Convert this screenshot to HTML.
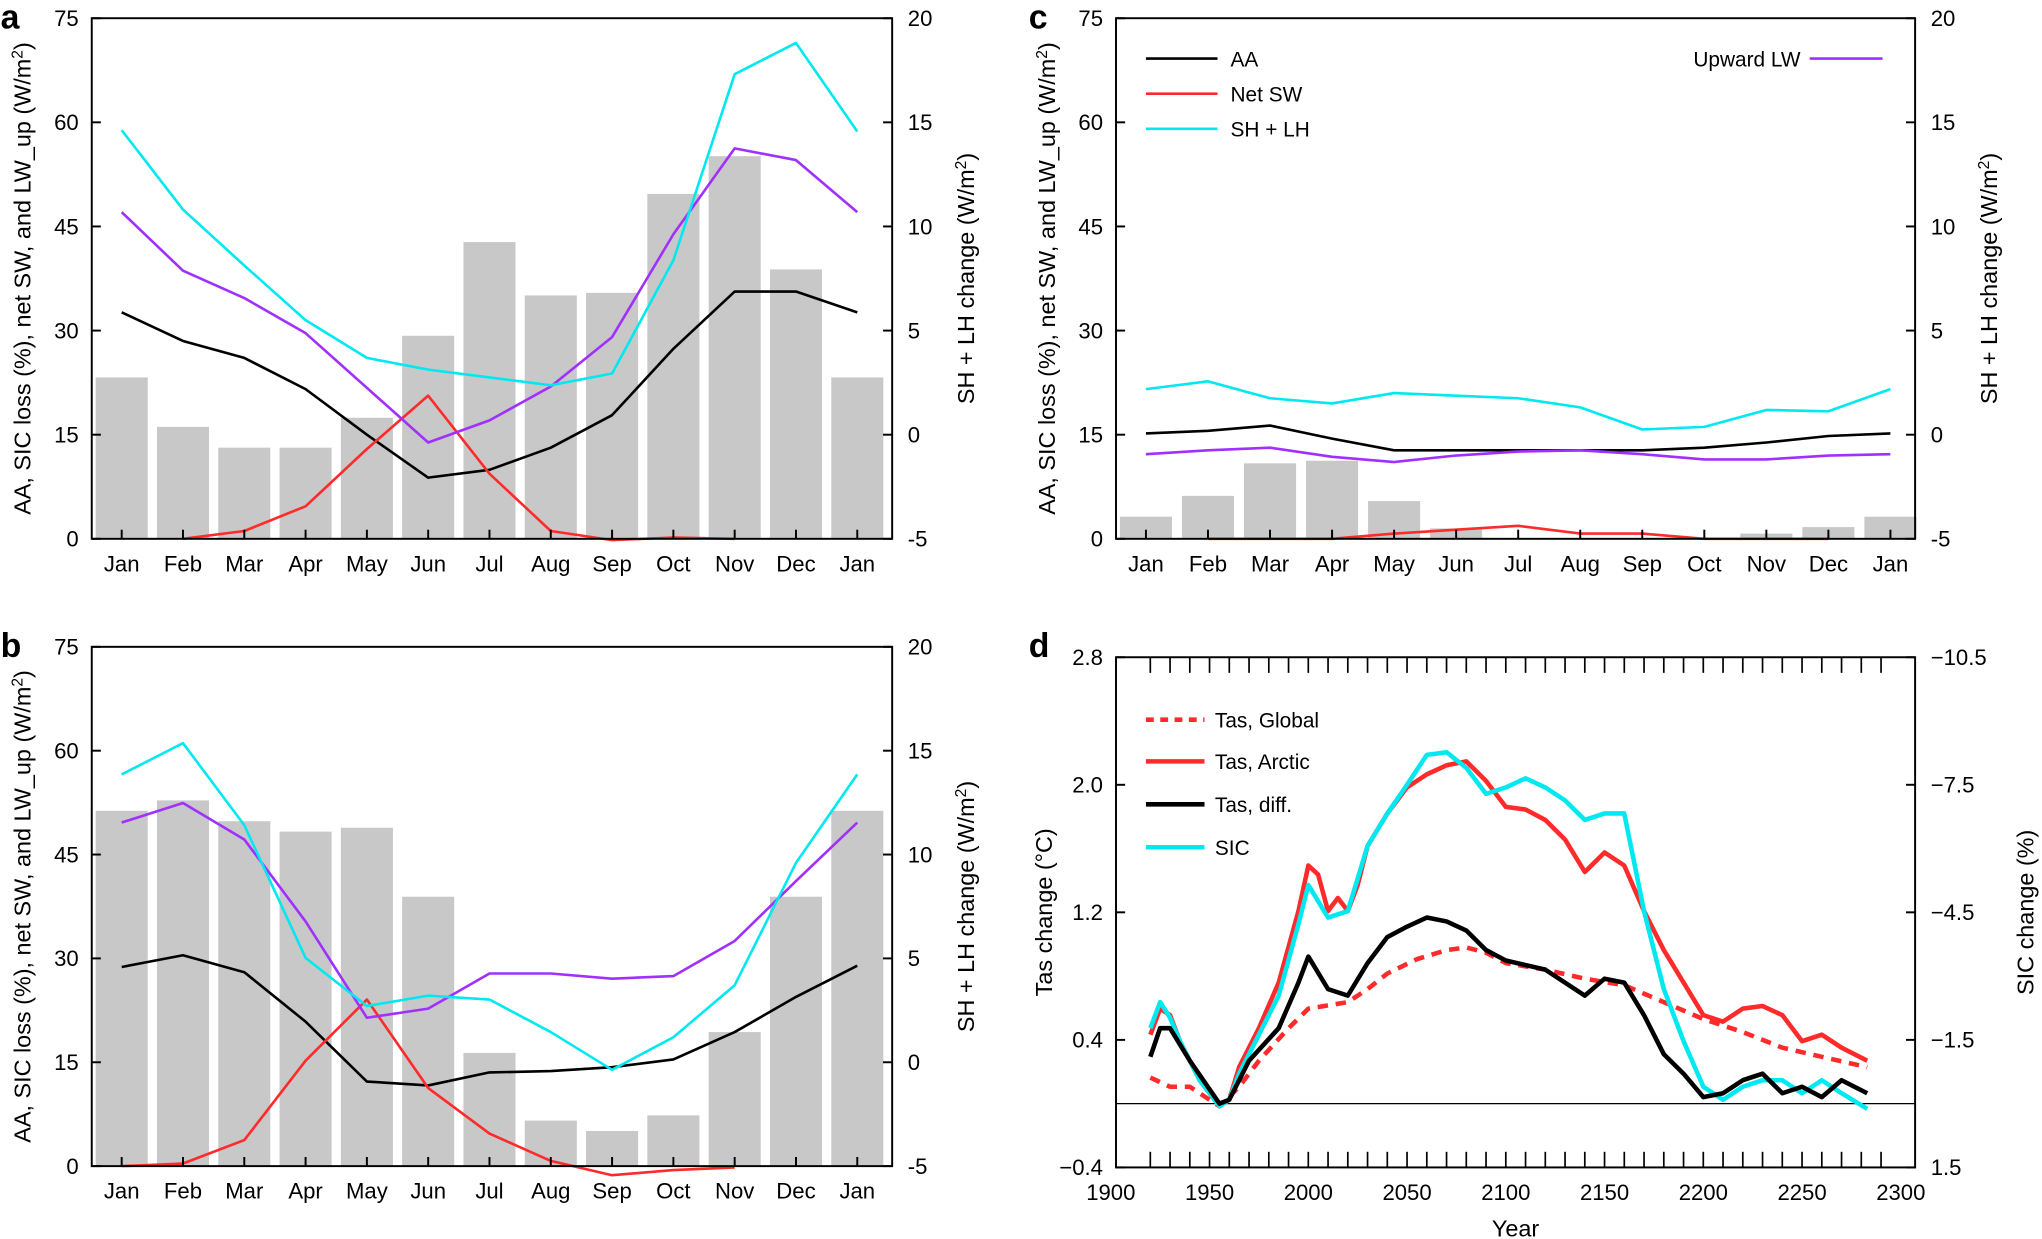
<!DOCTYPE html>
<html><head><meta charset="utf-8"><style>
html,body{margin:0;padding:0;background:#fff;}
svg{display:block;font-family:"Liberation Sans",sans-serif;}
</style></head><body>
<svg id="s" width="2042" height="1239" viewBox="0 0 1568 952" xmlns="http://www.w3.org/2000/svg">
<g id="g"></g>
<text x="0" y="22" font-size="26" font-weight="bold">a</text>
<text x="0" y="505" font-size="26" font-weight="bold">b</text>
<text x="790" y="22" font-size="26" font-weight="bold">c</text>
<text x="790" y="505" font-size="26" font-weight="bold">d</text>
</svg>
<script>
const NS="http://www.w3.org/2000/svg",G=document.getElementById('g');
function el(t,a,txt){const e=document.createElementNS(NS,t);for(const k in a)e.setAttribute(k,a[k]);if(txt!==undefined)e.textContent=txt;G.appendChild(e);return e;}
function line(xs,ys,c,w,d){let p=xs.map((x,i)=>x.toFixed(1)+','+ys[i]).join(' ');const a={points:p,fill:'none',stroke:c,'stroke-width':w||2,'stroke-linejoin':'round'};if(d)a['stroke-dasharray']=d;el('polyline',a);}
const M=['Jan','Feb','Mar','Apr','May','Jun','Jul','Aug','Sep','Oct','Nov','Dec','Jan'];
function monthPanel(x0,x1,y0,y1,mx0,sp,bars,blk,cy,pu,red,redStart,redEnd){
  const mx=M.map((_,i)=>mx0+sp*i);
  mx.forEach((x,i)=>el('rect',{x:x-20,y:bars[i],width:40,height:y1-bars[i],fill:'#c8c8c8'}));
  line(mx,blk,'#000',2);
  line(mx.slice(redStart,redEnd+1),red,'#ff2a2a',2);
  line(mx,pu,'#a030ff',2);
  line(mx,cy,'#00e8f0',2);
  el('rect',{x:x0,y:y0,width:x1-x0,height:y1-y0,fill:'none',stroke:'#000','stroke-width':1.5});
  for(let i=0;i<=5;i++){const y=y1-(y1-y0)*i/5;
    el('line',{x1:x0,y1:y,x2:x0+7,y2:y,stroke:'#000','stroke-width':1.5});
    el('line',{x1:x1,y1:y,x2:x1-7,y2:y,stroke:'#000','stroke-width':1.5});
    el('text',{x:x0-10,y:y+6,'font-size':17,'text-anchor':'end'},String(i*15));
    el('text',{x:x1+12,y:y+6,'font-size':17},String(-5+i*5));}
  mx.forEach((x,i)=>{el('line',{x1:x,y1:y1,x2:x,y2:y1-7,stroke:'#000','stroke-width':1.5});
    el('text',{x:x,y:y1+25,'font-size':17,'text-anchor':'middle'},M[i]);});
  const cyM=(y0+y1)/2;
  let t=el('text',{x:0,y:0,'font-size':18,'text-anchor':'middle',transform:`translate(${x0-47},${cyM}) rotate(-90)`});
  t.innerHTML='AA, SIC loss (%), net SW, and LW_up (W/m<tspan baseline-shift="super" font-size="12">2</tspan>)';
  t=el('text',{x:0,y:0,'font-size':18,'text-anchor':'middle',transform:`translate(${x1+63},${cyM}) rotate(-90)`});
  t.innerHTML='SH + LH change (W/m<tspan baseline-shift="super" font-size="12">2</tspan>)';
}
monthPanel(70,685,14,414,93,47.1,
 [290,328,344,344,321,258,186,227,225,149,120,207,290],
 [240,262,275,299,334,367,361,344,319,268,224,224,240],
 [100,161,204,246,275,284,290,296,287,200,57,33,101],
 [163,208,229,256,298,340,323,297,259,180,114,123,163],
 [414,408,389,345,304,364,408,415,413,414],1,10);
monthPanel(70,685,497,896,93,47.1,
 [623,615,631,639,636,689,809,861,869,857,793,689,623],
 [743,734,747,785,831,834,824,823,820,814,793,766,742],
 [595,571,634,736,773,765,768,793,822,797,757,663,595],
 [632,617,645,708,782,775,748,748,752,750,723,677,632],
 [896,894,876,815,768,836,871,892,903,899,897],0,10);
monthPanel(857,1471,14,414,880,47.67,
 [397,381,356,354,385,406,414,414,414,414,410,405,397],
 [333,331,327,337,346,346,346,346,346,344,340,335,333],
 [299,293,306,310,302,304,306,313,330,328,315,316,299],
 [349,346,344,351,355,350,347,346,349,353,353,350,349],
 [414,414,414,410,407,404,410,410,414,414,414],1,11);
[['AA','#000',45],['Net SW','#ff2a2a',72],['SH + LH','#00e8f0',99]].forEach(([n,c,y])=>{
 el('line',{x1:880,y1:y,x2:935,y2:y,stroke:c,'stroke-width':2});el('text',{x:945,y:y+6,'font-size':16},n);});
el('line',{x1:1390,y1:45,x2:1446,y2:45,stroke:'#a030ff','stroke-width':2});
el('text',{x:1383,y:51,'font-size':16,'text-anchor':'end'},'Upward LW');
const X=y=>853+(y-1900)*1.5175;
function dl(pts,c,w,d){const xs=[],ys=[];for(let i=0;i<pts.length;i+=2){xs.push(X(pts[i]));ys.push(pts[i+1]);}line(xs,ys,c,w,d);}
el('line',{x1:857,y1:848,x2:1471,y2:848,stroke:'#000','stroke-width':1});
dl([1920,828,1930,835,1940,835,1955,850,1965,835,1975,815,1990,790,2000,775,2020,770,2030,760,2040,748,2055,737,2070,730,2080,728,2090,732,2100,740,2120,745,2140,752,2160,757,2180,770,2200,783,2220,793,2240,805,2260,812,2283,820],'#ff2a2a',3.5,'8,6');
dl([1920,795,1925,775,1930,780,1935,800,1945,830,1955,850,1960,845,1965,820,1975,790,1985,755,1995,700,2000,665,2005,672,2010,700,2015,690,2020,700,2025,680,2030,650,2040,625,2050,605,2060,595,2070,588,2080,585,2090,600,2100,620,2110,622,2120,630,2130,645,2140,670,2150,655,2160,665,2170,700,2180,730,2190,755,2200,780,2210,785,2220,775,2230,773,2240,780,2250,800,2260,795,2270,805,2283,815],'#ff2a2a',3.5);
dl([1920,790,1925,770,1930,782,1935,800,1945,830,1955,850,1960,845,1965,825,1975,795,1985,765,1995,710,2000,680,2010,705,2020,700,2030,650,2040,625,2050,603,2060,580,2070,578,2080,590,2090,610,2100,605,2110,598,2120,605,2130,615,2140,630,2150,625,2160,625,2170,700,2180,760,2190,800,2200,835,2210,845,2220,835,2230,830,2240,830,2250,840,2260,830,2270,840,2283,852],'#00e8f0',3.5);
dl([1920,812,1925,790,1930,790,1940,815,1955,848,1960,845,1970,815,1985,790,1995,755,2000,735,2010,760,2020,765,2030,740,2040,720,2050,712,2060,705,2070,708,2080,715,2090,730,2100,738,2120,745,2130,755,2140,765,2150,752,2160,755,2170,780,2180,810,2190,825,2200,843,2210,840,2220,830,2230,825,2240,840,2250,835,2260,843,2270,830,2283,840],'#000',3.5);
el('rect',{x:857,y:505,width:614,height:392,fill:'none',stroke:'#000','stroke-width':1.5});
for(let yr=1920;yr<=2290;yr+=10){const x=X(yr);el('line',{x1:x,y1:897,x2:x,y2:885,stroke:'#000','stroke-width':1.3});el('line',{x1:x,y1:505,x2:x,y2:517,stroke:'#000','stroke-width':1.3});}
for(let yr=1900;yr<=2300;yr+=50){el('text',{x:X(yr),y:922,'font-size':17,'text-anchor':'middle'},String(yr));}
['2.8','2.0','1.2','0.4','−0.4'].forEach((l,i)=>{const y=505+98*i;el('text',{x:847,y:y+6,'font-size':17,'text-anchor':'end'},l);
 el('line',{x1:857,y1:y,x2:864,y2:y,stroke:'#000','stroke-width':1.5});el('line',{x1:1471,y1:y,x2:1464,y2:y,stroke:'#000','stroke-width':1.5});});
['−10.5','−7.5','−4.5','−1.5','1.5'].forEach((l,i)=>el('text',{x:1483,y:505+98*i+6,'font-size':17},l));
el('text',{x:1164,y:950,'font-size':18,'text-anchor':'middle'},'Year');
el('text',{x:0,y:0,'font-size':18,'text-anchor':'middle',transform:'translate(808,701) rotate(-90)'},'Tas change (°C)');
el('text',{x:0,y:0,'font-size':18,'text-anchor':'middle',transform:'translate(1562,701) rotate(-90)'},'SIC change (%)');
[['Tas, Global','#ff2a2a',553,'6,5'],['Tas, Arctic','#ff2a2a',585],['Tas, diff.','#000',618],['SIC','#00e8f0',651]].forEach(([n,c,y,d])=>{
 const a={x1:880,y1:y,x2:925,y2:y,stroke:c,'stroke-width':3.5};if(d)a['stroke-dasharray']=d;el('line',a);
 el('text',{x:933,y:y+6,'font-size':16},n);});
</script>
</body></html>
